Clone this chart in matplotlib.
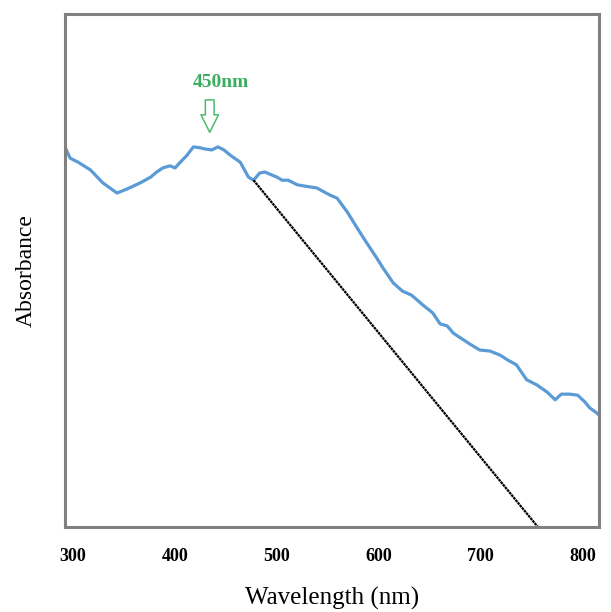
import matplotlib
matplotlib.use("Agg")
import matplotlib.pyplot as plt
from matplotlib.patches import FancyArrowPatch

# UV-vis spectrum (arbitrary absorbance units)
wavelength = [292, 297, 305, 317, 329, 343, 353, 366, 376, 382, 388, 395, 400,
              405, 411, 418, 425, 429, 436, 442, 448, 454, 464, 472, 477, 483,
              488, 500, 505, 511, 520, 532, 539, 552, 559, 569, 578, 588, 598,
              604, 614, 623, 632, 643, 653, 660, 667, 673, 679, 689, 699, 709,
              719, 726, 735, 745, 755, 765, 773, 779, 787, 795, 802, 807, 814, 816]
absorbance = [0.741, 0.719, 0.711, 0.696, 0.671, 0.651, 0.659, 0.671, 0.682,
              0.692, 0.700, 0.704, 0.700, 0.711, 0.723, 0.741, 0.739, 0.737,
              0.735, 0.741, 0.735, 0.725, 0.711, 0.682, 0.676, 0.690, 0.692,
              0.682, 0.676, 0.676, 0.667, 0.663, 0.661, 0.647, 0.641, 0.614,
              0.585, 0.554, 0.524, 0.505, 0.476, 0.460, 0.452, 0.433, 0.417,
              0.396, 0.392, 0.378, 0.370, 0.357, 0.345, 0.343, 0.335, 0.326,
              0.316, 0.287, 0.277, 0.263, 0.248, 0.259, 0.259, 0.257, 0.244,
              0.232, 0.222, 0.218]

# tangent (band edge) line
tangent_x = [477, 756]
tangent_y = [0.676, 0.0]

xticks = [300, 400, 500, 600, 700, 800]
peak_label = "450nm"
peak_x = 434

serif = ["Liberation Serif", "DejaVu Serif"]

fig = plt.figure(figsize=(6.11, 6.12), dpi=100)
ax = fig.add_axes([0.1064, 0.1389, 0.8740, 0.8382])

ax.plot(wavelength, absorbance, color="#5b9bd5", lw=2.3, solid_capstyle="round")
ax.plot(tangent_x, tangent_y, color="black", lw=1.6, ls=(0, (1.2, 0.3)))

ax.set_xlim(292, 816)
ax.set_ylim(0, 1)
ax.set_xticks(xticks)
ax.set_xticklabels([str(t) for t in xticks], fontfamily=serif,
                   fontweight="bold", fontsize=13)
ax.set_yticks([])
ax.tick_params(axis="x", length=0, pad=15)

for s in ax.spines.values():
    s.set_color("#808080")
    s.set_linewidth(2.2)

# hollow arrow marking the peak
arr = FancyArrowPatch((peak_x, 0.838), (peak_x, 0.764),
                      arrowstyle="simple,head_width=0.9,head_length=0.9,tail_width=0.45",
                      mutation_scale=14, facecolor="white", edgecolor="#4cbb6c", lw=1.1)
ax.add_patch(arr)
ax.text(445, 0.867, peak_label, color="#3aae5f", fontfamily=serif,
        fontweight="bold", fontsize=14, ha="center", va="center")

ax.set_xlabel("Wavelength (nm)", fontfamily=serif, fontsize=18, labelpad=16)
ax.set_ylabel("Absorbance", fontfamily=serif, fontsize=17, labelpad=20)

fig.savefig("out.png", dpi=100)
